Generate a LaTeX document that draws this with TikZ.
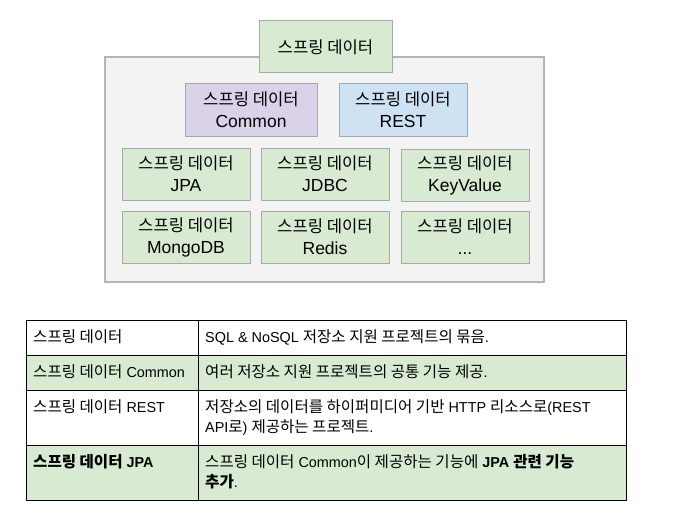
\documentclass[tikz,border=0pt]{standalone}
\usepackage{fontspec}
\setmainfont{Liberation Sans}
\newfontfamily\krfont[Scale=1.08]{Noto Sans CJK KR}
\newcommand\kr[1]{{\krfont #1}}
\newcommand\kb[1]{{\krfont\fontsize{15.4}{22}\selectfont #1}}
\definecolor{sdgreen}{HTML}{D9EAD3}
\definecolor{sdpurple}{HTML}{D9D2E9}
\definecolor{sdblue}{HTML}{CFE2F3}
\definecolor{sdgroup}{HTML}{F3F3F3}
\definecolor{sdline}{HTML}{A8A8A8}
\begin{document}
\begin{tikzpicture}[x=1pt,y=-1pt,
    box/.style={draw=sdline,line width=1pt,minimum width=128,minimum height=52,inner sep=0pt,align=center,font=\fontsize{17.5}{22}\selectfont},
    cell/.style={draw=black,line width=0.9pt,anchor=north west,minimum height=35,inner sep=0pt,outer sep=0pt},
    celltext/.style={anchor=base west,inner sep=0pt,align=left,font=\fontsize{14.4}{20}\selectfont}]
    \useasboundingbox (0,0) rectangle (678,519);
    %% group of modules
    \node[anchor=north west,draw=sdline!85,fill=sdgroup,line width=1.2pt,outer sep=0pt,minimum width=439,minimum height=225] (group) at (105,57) {};
    \node[box,fill=sdgreen,minimum width=133] (data) at (325.5,47) {\kb{스프링 데이터}};
    \node[box,fill=sdpurple,minimum width=132] (common) at (251,110) {\kb{스프링 데이터}\\Common};
    \node[box,fill=sdblue] (rest) at (403,110) {\kb{스프링 데이터}\\REST};
    %% store modules
    \node[box,fill=sdgreen] (jpa) at (186,174) {\kb{스프링 데이터}\\JPA};
    \node[box,fill=sdgreen] (jdbc) at (325,174) {\kb{스프링 데이터}\\JDBC};
    \node[box,fill=sdgreen] (keyvalue) at (465,175) {\kb{스프링 데이터}\\KeyValue};
    \node[box,fill=sdgreen] (mongodb) at (186,237) {\kb{스프링 데이터}\\MongoDB};
    \node[box,fill=sdgreen] (redis) at (325,237) {\kb{스프링 데이터}\\Redis};
    \node[box,fill=sdgreen] (etc) at (465,237) {\kb{스프링 데이터}\\...};
    %% table
    \node[cell,minimum width=172] (n1) at (26,320) {};
    \node[cell,minimum width=428] (d1) at (n1.north east) {};
    \node[cell,fill=sdgreen,minimum width=172] (n2) at (n1.south west) {};
    \node[cell,fill=sdgreen,minimum width=428] (d2) at (n2.north east) {};
    \node[cell,minimum width=172,minimum height=55] (n3) at (n2.south west) {};
    \node[cell,minimum width=428,minimum height=55] (d3) at (n3.north east) {};
    \node[cell,fill=sdgreen,minimum width=172,minimum height=55] (n4) at (n3.south west) {};
    \node[cell,fill=sdgreen,minimum width=428,minimum height=55] (d4) at (n4.north east) {};
    %% cell texts (base is the last line)
    \node[celltext] (n1t) at ([shift={(7,22.5)}]n1.north west) {\kr{스프링 데이터}};
    \node[celltext] (d1t) at ([shift={(7,22.5)}]d1.north west) {SQL \& NoSQL \kr{저장소 지원 프로젝트의 묶음}.};
    \node[celltext] (n2t) at ([shift={(7,22.5)}]n2.north west) {\kr{스프링 데이터} Common};
    \node[celltext] (d2t) at ([shift={(7,22.5)}]d2.north west) {\kr{여러 저장소 지원 프로젝트의 공통 기능 제공}.};
    \node[celltext] (n3t) at ([shift={(7,22.5)}]n3.north west) {\kr{스프링 데이터} REST};
    \node[celltext] (d3t) at ([shift={(7,42.5)}]d3.north west) {\kr{저장소의 데이터를 하이퍼미디어 기반} HTTP \kr{리소스로}(REST\\API\kr{로}) \kr{제공하는 프로젝트}.};
    \node[celltext] (n4t) at ([shift={(7,22.5)}]n4.north west) {\textbf{\kr{스프링 데이터} JPA}};
    \node[celltext] (d4t) at ([shift={(7,42.5)}]d4.north west) {\kr{스프링 데이터} Common\kr{이 제공하는 기능에} \textbf{JPA \kr{관련 기능}}\\\textbf{\kr{추가}}.};
\end{tikzpicture}
\end{document}
